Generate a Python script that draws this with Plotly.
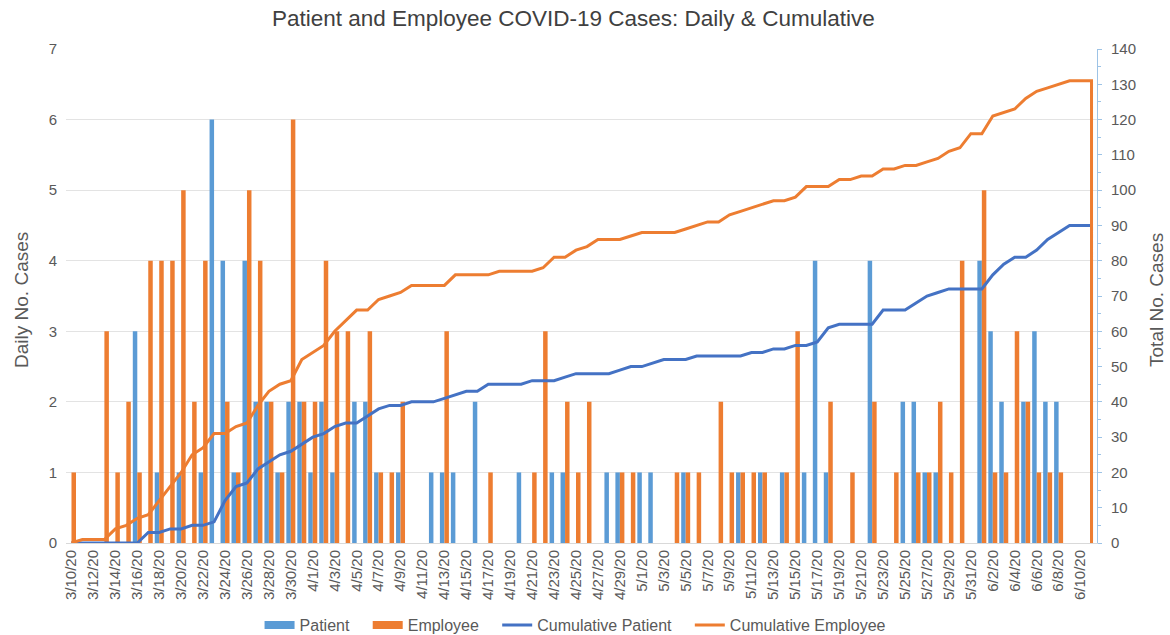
import plotly.graph_objects as go

dates = [
    "2020-03-10", "2020-03-11", "2020-03-12", "2020-03-13", "2020-03-14", "2020-03-15", "2020-03-16",
    "2020-03-17", "2020-03-18", "2020-03-19", "2020-03-20", "2020-03-21", "2020-03-22", "2020-03-23",
    "2020-03-24", "2020-03-25", "2020-03-26", "2020-03-27", "2020-03-28", "2020-03-29", "2020-03-30",
    "2020-03-31", "2020-04-01", "2020-04-02", "2020-04-03", "2020-04-04", "2020-04-05", "2020-04-06",
    "2020-04-07", "2020-04-08", "2020-04-09", "2020-04-10", "2020-04-11", "2020-04-12", "2020-04-13",
    "2020-04-14", "2020-04-15", "2020-04-16", "2020-04-17", "2020-04-18", "2020-04-19", "2020-04-20",
    "2020-04-21", "2020-04-22", "2020-04-23", "2020-04-24", "2020-04-25", "2020-04-26", "2020-04-27",
    "2020-04-28", "2020-04-29", "2020-04-30", "2020-05-01", "2020-05-02", "2020-05-03", "2020-05-04",
    "2020-05-05", "2020-05-06", "2020-05-07", "2020-05-08", "2020-05-09", "2020-05-10", "2020-05-11",
    "2020-05-12", "2020-05-13", "2020-05-14", "2020-05-15", "2020-05-16", "2020-05-17", "2020-05-18",
    "2020-05-19", "2020-05-20", "2020-05-21", "2020-05-22", "2020-05-23", "2020-05-24", "2020-05-25",
    "2020-05-26", "2020-05-27", "2020-05-28", "2020-05-29", "2020-05-30", "2020-05-31", "2020-06-01",
    "2020-06-02", "2020-06-03", "2020-06-04", "2020-06-05", "2020-06-06", "2020-06-07", "2020-06-08",
    "2020-06-09", "2020-06-10", "2020-06-11",
]

patient_daily = [
    0, 0, 0, 0, 0, 0, 3, 0, 1, 0, 1, 0, 1, 6, 4, 1, 4, 2, 2, 1,
    2, 2, 1, 2, 1, 0, 2, 2, 1, 0, 1, 0, 0, 1, 1, 1, 0, 2, 0, 0,
    0, 1, 0, 0, 1, 1, 0, 0, 0, 1, 1, 0, 1, 1, 0, 0, 1, 0, 0, 0,
    0, 1, 0, 1, 0, 1, 0, 1, 4, 1, 0, 0, 0, 4, 0, 0, 2, 2, 1, 1,
    0, 0, 0, 4, 3, 2, 0, 2, 3, 2, 2, 0, 0, 0,
]

employee_daily = [
    1, 0, 0, 3, 1, 2, 1, 4, 4, 4, 5, 2, 4, 0, 2, 1, 5, 4, 2, 1,
    6, 2, 2, 4, 3, 3, 0, 3, 1, 1, 2, 0, 0, 0, 3, 0, 0, 0, 1, 0,
    0, 0, 1, 3, 0, 2, 1, 2, 0, 0, 1, 1, 0, 0, 0, 1, 1, 1, 0, 2,
    1, 1, 1, 1, 0, 1, 3, 0, 0, 2, 0, 1, 0, 2, 0, 1, 0, 1, 1, 2,
    1, 4, 0, 5, 1, 1, 3, 2, 1, 1, 1, 0, 0, 0,
]

# cumulative lines as drawn (the series returns to 0 on its final row)
line_dates = dates + [dates[-1]]

cumulative_patient = [
    0, 0, 0, 0, 0, 0, 0, 3, 3, 4, 4, 5, 5, 6, 12, 16, 17, 21, 23, 25,
    26, 28, 30, 31, 33, 34, 34, 36, 38, 39, 39, 40, 40, 40, 41, 42, 43, 43, 45, 45,
    45, 45, 46, 46, 46, 47, 48, 48, 48, 48, 49, 50, 50, 51, 52, 52, 52, 53, 53, 53,
    53, 53, 54, 54, 55, 55, 56, 56, 57, 61, 62, 62, 62, 62, 66, 66, 66, 68, 70, 71,
    72, 72, 72, 72, 76, 79, 81, 81, 83, 86, 88, 90, 90, 90, 0,
]

cumulative_employee = [
    0, 1, 1, 1, 4, 5, 7, 8, 12, 16, 20, 25, 27, 31, 31, 33, 34, 39, 43, 45,
    46, 52, 54, 56, 60, 63, 66, 66, 69, 70, 71, 73, 73, 73, 73, 76, 76, 76, 76, 77,
    77, 77, 77, 78, 81, 81, 83, 84, 86, 86, 86, 87, 88, 88, 88, 88, 89, 90, 91, 91,
    93, 94, 95, 96, 97, 97, 98, 101, 101, 101, 103, 103, 104, 104, 106, 106, 107, 107, 108, 109,
    111, 112, 116, 116, 121, 122, 123, 126, 128, 129, 130, 131, 131, 131, 0,
]

FONT = "Liberation Sans, Arial, sans-serif"
GREY = "#595959"
BLUE_BAR = "#5B9BD5"
ORANGE = "#ED7D31"
BLUE_LINE = "#4472C4"
PAD = "\u00a0\u00a0\u00a0"  # spacing between legend entries

fig = go.Figure()
fig.add_trace(go.Bar(x=dates, y=patient_daily, name="Patient", legendgroup="p", showlegend=False,
                     marker=dict(color=BLUE_BAR, line=dict(width=0))))
fig.add_trace(go.Bar(x=dates, y=employee_daily, name="Employee", legendgroup="e", showlegend=False,
                     marker=dict(color=ORANGE, line=dict(width=0))))
# legend keys for the bar series (wide flat swatches, as in the original)
fig.add_trace(go.Scatter(x=[None], y=[None], name="Patient" + PAD, legendgroup="p", mode="lines",
                         line=dict(color=BLUE_BAR, width=8), hoverinfo="skip"))
fig.add_trace(go.Scatter(x=[None], y=[None], name="Employee" + PAD, legendgroup="e", mode="lines",
                         line=dict(color=ORANGE, width=8), hoverinfo="skip"))
fig.add_trace(go.Scatter(x=line_dates, y=cumulative_patient, name="Cumulative Patient" + PAD, mode="lines",
                         line=dict(color=BLUE_LINE, width=3), yaxis="y2"))
fig.add_trace(go.Scatter(x=line_dates, y=cumulative_employee, name="Cumulative Employee", mode="lines",
                         line=dict(color=ORANGE, width=3), yaxis="y2"))

fig.update_layout(
    width=1170, height=635,
    margin=dict(l=66, r=73, t=49, b=92),
    paper_bgcolor="white", plot_bgcolor="white",
    font=dict(family=FONT, color=GREY),
    barmode="group", bargap=0.18, bargroupgap=0,
    title=dict(text="Patient and Employee COVID-19 Cases: Daily & Cumulative",
               x=0.490, xanchor="center", y=0.971, yanchor="middle",
               font=dict(size=22.5, color="#404040", family=FONT)),
    xaxis=dict(type="date", range=["2020-03-09 12:00", "2020-06-11 12:00"],
               tick0="2020-03-10", dtick=2 * 86400000, tickformat="%-m/%-d/%y",
               tickangle=-90, tickfont=dict(size=15, color=GREY),
               showgrid=False, showline=True, linecolor="#D9D9D9", linewidth=1,
               ticks="", automargin=False),
    yaxis=dict(range=[0, 7], dtick=1, showgrid=True, gridcolor="#E3E3E3", gridwidth=1,
               zeroline=False, showline=False, tickfont=dict(size=15, color=GREY),
               ticks="", ticklabelstandoff=8, automargin=False),
    yaxis2=dict(range=[0, 140], dtick=10, overlaying="y", side="right", showgrid=False,
                zeroline=False, showline=True, linecolor="#9DC3E6", linewidth=1,
                ticks="outside", ticklen=4, tickcolor="#9DC3E6",
                minor=dict(dtick=5, ticks="outside", ticklen=3, tickcolor="#9DC3E6"),
                ticklabelstandoff=6,
                tickfont=dict(size=15, color=GREY), automargin=False),
    legend=dict(orientation="h", xref="container", x=0.4915, xanchor="center",
                yref="container", y=1 - 625 / 635, yanchor="middle",
                font=dict(size=16, color=GREY), itemwidth=30, traceorder="normal",
                bgcolor="rgba(0,0,0,0)"),
    annotations=[
        dict(text="Daily No. Cases", xref="paper", yref="paper", x=-0.0427, y=0.492,
             xanchor="center", yanchor="middle", textangle=-90, showarrow=False,
             font=dict(size=19, color=GREY, family=FONT)),
        dict(text="Total No. Cases", xref="paper", yref="paper", x=1.0582, y=0.492,
             xanchor="center", yanchor="middle", textangle=-90, showarrow=False,
             font=dict(size=19, color=GREY, family=FONT)),
    ],
)

fig.write_html("out.html", config={"displayModeBar": False},
               post_script="document.body.style.margin='0px';")
